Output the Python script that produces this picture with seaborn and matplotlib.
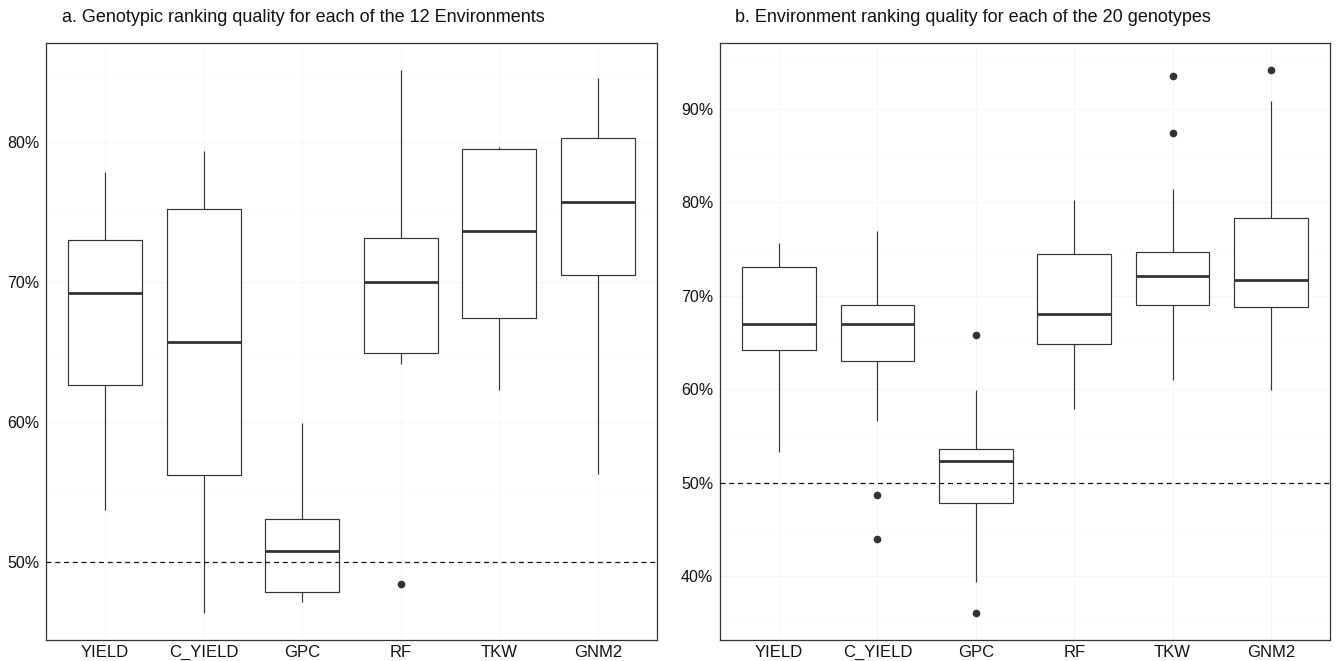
import numpy as np
import pandas as pd
import matplotlib
matplotlib.use("Agg")
import matplotlib.pyplot as plt
from matplotlib.ticker import FuncFormatter, MultipleLocator
import seaborn as sns

traits = ["YIELD", "C_YIELD", "GPC", "RF", "TKW", "GNM2"]

# Panel a: ranking quality (%) for each of the 12 environments
env_yield = [53.7, 58.9, 62.1, 62.86, 66.5, 68.8, 69.6, 71.2, 72.8, 73.6, 75.4, 77.86]
env_cyield = [46.36, 51.5, 55.6, 56.4, 60.3, 64.9, 66.5, 70.1, 74.8, 76.56, 78.1, 79.4]
env_gpc = [47.12, 47.5, 47.7, 47.91, 49.2, 50.3, 51.3, 52.2, 52.9, 53.7, 56.4, 59.93]
env_rf = [48.43, 64.17, 64.6, 65.04, 67.3, 69.4, 70.6, 71.8, 72.9, 74.1, 77.5, 85.17]
env_tkw = [62.3, 65.2, 67.1, 67.57, 70.4, 73.1, 74.3, 77.2, 79.5, 79.6, 79.62, 79.64]
env_gnm2 = [56.3, 66.8, 70.2, 70.63, 72.9, 75.1, 76.42, 78.3, 80.1, 81.02, 82.7, 84.64]

# Panel b: ranking quality (%) for each of the 20 genotypes
gen_yield = [53.29, 58.4, 61.2, 62.9, 64.0, 64.28, 65.1, 65.8, 66.5, 66.9,
             67.18, 68.3, 70.2, 71.9, 72.9, 73.86, 74.5, 74.9, 75.3, 75.64]
gen_cyield = [44.04, 48.68, 56.6, 60.1, 62.9, 63.09, 64.2, 65.3, 66.1, 66.8,
              67.28, 67.6, 68.1, 68.5, 68.9, 69.46, 70.8, 72.5, 74.6, 76.93]
gen_gpc = [36.1, 39.43, 43.5, 46.2, 47.6, 47.95, 49.1, 50.4, 51.5, 52.1,
           52.48, 52.7, 53.0, 53.3, 53.5, 54.06, 55.2, 57.1, 59.9, 65.86]
gen_rf = [57.93, 60.8, 62.5, 63.9, 64.7, 64.91, 65.6, 66.4, 67.2, 67.8,
          68.28, 69.5, 71.2, 72.8, 74.1, 75.54, 76.3, 77.6, 78.9, 80.2]
gen_tkw = [60.96, 64.5, 66.8, 68.1, 68.9, 69.03, 69.9, 70.6, 71.3, 71.9,
           72.38, 72.9, 73.5, 74.0, 74.5, 75.22, 77.3, 81.43, 87.46, 93.46]
gen_gnm2 = [59.9, 63.8, 66.2, 67.9, 68.7, 68.91, 69.6, 70.3, 70.9, 71.4,
            71.96, 72.8, 74.3, 76.1, 77.9, 79.46, 81.5, 84.7, 90.82, 94.14]

title_a = "a. Genotypic ranking quality for each of the 12 Environments"
title_b = "b. Environment ranking quality for each of the 20 genotypes"
ref_line = 50


def long_df(series):
    rows = []
    for t, vals in zip(traits, series):
        for v in vals:
            rows.append((t, v))
    return pd.DataFrame(rows, columns=["trait", "value"])


df_a = long_df([env_yield, env_cyield, env_gpc, env_rf, env_tkw, env_gnm2])
df_b = long_df([gen_yield, gen_cyield, gen_gpc, gen_rf, gen_tkw, gen_gnm2])

sns.set_theme(style="white")
plt.rcParams["font.family"] = ["Liberation Sans", "DejaVu Sans"]

fig = plt.figure(figsize=(13.38, 6.61), dpi=100)
ax_a = fig.add_axes([46 / 1338, 1 - 640 / 661, 611 / 1338, 597 / 661])
ax_b = fig.add_axes([720 / 1338, 1 - 640 / 661, 610 / 1338, 597 / 661])

line_c = "#333333"

for ax, df, title, tx in [(ax_a, df_a, title_a, 62), (ax_b, df_b, title_b, 735)]:
    sns.boxplot(data=df, x="trait", y="value", order=traits, ax=ax,
                width=0.75, color="white", linecolor=line_c, linewidth=0.85,
                showcaps=False, whis=1.5,
                medianprops=dict(linewidth=2.0, color=line_c),
                flierprops=dict(marker="o", markersize=4.5,
                                markerfacecolor=line_c, markeredgecolor=line_c))
    ax.axhline(ref_line, color="#111111", linestyle=(0, (4, 3)), linewidth=0.9, zorder=5)
    vmin, vmax = df["value"].min(), df["value"].max()
    pad = (vmax - vmin) * 0.05
    ax.set_ylim(vmin - pad, vmax + pad)
    ax.set_xlim(-0.6, len(traits) - 0.4)
    ax.yaxis.set_major_locator(MultipleLocator(10))
    ax.yaxis.set_minor_locator(MultipleLocator(5))
    ax.yaxis.set_major_formatter(FuncFormatter(lambda v, p: f"{v:.0f}%"))
    ax.grid(True, which="major", color="#f5f5f5", linewidth=0.6)
    ax.grid(True, which="minor", axis="y", color="#f7f7f7", linewidth=0.4)
    ax.set_axisbelow(True)
    ax.set_xlabel("")
    ax.set_ylabel("")
    ax.tick_params(axis="y", which="major", length=3, width=0.6,
                   color="#333333", labelsize=11.5, labelcolor="#111111", pad=2)
    ax.tick_params(axis="x", which="major", length=3, width=0.6,
                   color="#333333", labelsize=12, labelcolor="#111111", pad=0.5)
    ax.tick_params(axis="y", which="minor", length=0)
    for s in ax.spines.values():
        s.set_visible(True)
        s.set_color("#333333")
        s.set_linewidth(0.9)
    fig.text(tx / 1338, 1 - 18 / 661, title, ha="left", va="center",
             fontsize=13, color="#111111")

fig.savefig("out.png", dpi=100, facecolor="white")
